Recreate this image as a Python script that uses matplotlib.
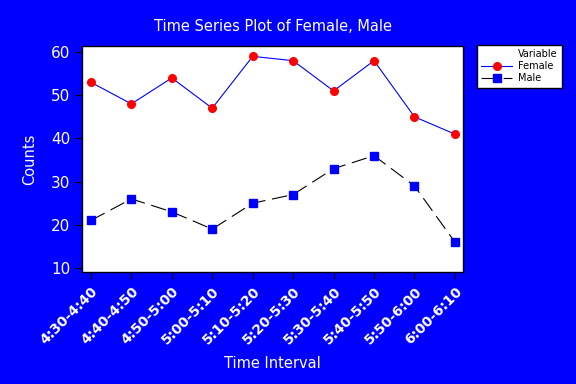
import matplotlib.pyplot as plt
from matplotlib.lines import Line2D

# -------------------------
# Data
# -------------------------
intervals = ["4:30-4:40", "4:40-4:50", "4:50-5:00", "5:00-5:10", "5:10-5:20",
             "5:20-5:30", "5:30-5:40", "5:40-5:50", "5:50-6:00", "6:00-6:10"]
female = [53, 48, 54, 47, 59, 58, 51, 58, 45, 41]
male = [21, 26, 23, 19, 25, 27, 33, 36, 29, 16]

bg = "#0000ff"
x = list(range(len(intervals)))

# -------------------------
# Plot
# -------------------------
fig = plt.figure(figsize=(5.76, 3.84), dpi=100, facecolor=bg)
ax = fig.add_axes([82/576, 1 - 272/384, (463-82)/576, (272-46)/384])
ax.set_facecolor("white")

ax.plot(x, female, color="blue", lw=0.8, marker="o", ms=5.5,
        mfc="red", mec="red", label="Female")
ax.plot(x, male, color="black", lw=0.8, ls=(0, (14, 6)), marker="s", ms=6,
        mfc="blue", mec="blue", label="Male")

ax.set_xlim(-0.22, 9.2)
ax.set_ylim(9.07, 61.4)
ax.set_yticks([10, 20, 30, 40, 50, 60])
ax.set_xticks(x)
ax.set_xticklabels(intervals, rotation=45, ha="right", rotation_mode="anchor",
                   color="white", fontsize=10, fontweight="bold")
ax.tick_params(axis="y", labelcolor="white", labelsize=11, length=5, color="black")
ax.tick_params(axis="x", length=5, color="black", pad=4)
for s in ax.spines.values():
    s.set_color("black")
    s.set_linewidth(1)

ax.set_xlabel("Time Interval", color="white", fontsize=10.5, labelpad=6)
ax.set_ylabel("Counts", color="white", fontsize=10.5, labelpad=10)
ax.set_title("Time Series Plot of Female, Male", color="white", fontsize=10.5, pad=11)

blank = Line2D([], [], color="none")
h, l = ax.get_legend_handles_labels()
leg = fig.legend([blank] + h, ["Variable"] + l, loc="upper left",
                 bbox_to_anchor=(477/576, 1 - 45/384), fontsize=7,
                 frameon=True, fancybox=False, edgecolor="black",
                 facecolor="white", framealpha=1,
                 handlelength=3.2, handletextpad=0.6, borderpad=0.45,
                 labelspacing=0.2, borderaxespad=0)
leg.get_frame().set_linewidth(1)

plt.savefig("out.png", dpi=100, facecolor=bg)
